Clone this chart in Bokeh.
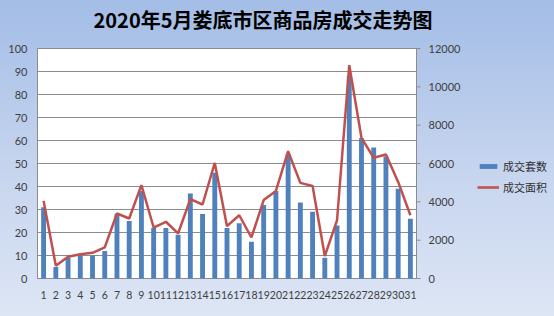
from bokeh.plotting import figure
from bokeh.models import Range1d, Legend, LegendItem, ColumnDataSource
from bokeh.core.properties import value
from bokeh.embed import file_html
from bokeh.resources import INLINE

days = ["1", "2", "3", "4", "5", "6", "7", "8", "9", "10", "11", "12", "13", "14", "15", "16",
        "17", "18", "19", "20", "21", "22", "23", "24", "25", "26", "27", "28", "29", "30", "31"]
day_pos = [1, 2, 3, 4, 5, 6, 7, 8, 9, 10, 11, 12, 13, 14, 15, 16,
           17, 18, 19, 20, 21, 22, 23, 24, 25, 26, 27, 28, 29, 30, 31]
units = [31, 5, 9, 10, 10, 12, 28, 25, 38, 22, 22, 19, 37, 28, 46, 22,
         24, 16, 32, 38, 54, 33, 29, 9, 23, 88, 61, 57, 53, 39, 26]
area = [4050, 660, 1130, 1270, 1340, 1620, 3390, 3130, 4870, 2660, 2960, 2350, 4140, 3860, 6030, 2730,
        3300, 2140, 4090, 4570, 6640, 4990, 4830, 1170, 3040, 11130, 7340, 6300, 6470, 5040, 3300]
left_ticks = [0, 10, 20, 30, 40, 50, 60, 70, 80, 90, 100]
right_ticks = [0, 2000, 4000, 6000, 8000, 10000, 12000]
title_text = "2020年5月娄底市区商品房成交走势图"
series_names = ["成交套数", "成交面积"]

W, H = 554, 316
# plot-area placement (pixels)
PL, PR, PT, PB = 37, 416, 48, 278
n = len(days)
x_lo, x_hi = 0.5, n + 0.5
y_lo, y_hi = 0, 100
a_lo, a_hi = 0, 12000
xs = (PR - PL) / (x_hi - x_lo)
ys = (PB - PT) / (y_hi - y_lo)
a_scale = (a_hi - a_lo) / (y_hi - y_lo)

p = figure(width=W, height=H, output_backend="svg", toolbar_location=None, tools="",
           x_axis_type=None, y_axis_type=None,
           x_range=Range1d(x_lo - PL / xs, x_hi + (W - PR) / xs),
           y_range=Range1d(y_lo - (H - PB) / ys, y_hi + PT / ys),
           min_border_left=0, min_border_right=0, min_border_top=0, min_border_bottom=0)
ymin, ymax = p.y_range.start, p.y_range.end
p.extra_y_ranges = {"area": Range1d(ymin * a_scale, ymax * a_scale)}

p.border_fill_color = None
p.background_fill_color = None
p.outline_line_color = None
p.styles = {"background": "linear-gradient(180deg, #a3bde6 0%, #c4d3ee 50%, #dde6f5 100%)"}

axis_col = "#8c8c8c"
lab_col = "#404040"
lab_font = value("Lato")

# plot area
p.quad(left=[x_lo], right=[x_hi], bottom=[y_lo], top=[y_hi], fill_color="white", line_color="#a6a6a6")
# horizontal grid lines
p.segment(x0=[x_lo] * len(left_ticks), x1=[x_hi] * len(left_ticks), y0=left_ticks, y1=left_ticks,
          line_color=axis_col, line_width=1)
# left axis line
p.segment(x0=[x_lo], x1=[x_lo], y0=[y_lo], y1=[y_hi], line_color=axis_col)

src = ColumnDataSource(dict(day=day_pos, label=days, units=units, area=area))
bars = p.vbar(x="day", top="units", width=0.4, source=src, fill_color="#4f81bd", line_color=None)
line = p.line(x="day", y="area", source=src, y_range_name="area", line_color="#c0504d", line_width=2.5)

# right axis
p.segment(x0=[x_hi], x1=[x_hi], y0=[a_lo], y1=[a_hi], line_color=axis_col, y_range_name="area")
p.ray(x=[x_hi] * len(right_ticks), y=right_ticks, length=4, length_units="screen", angle=0,
      line_color=axis_col, y_range_name="area")
p.text(x=[x_hi] * len(right_ticks), y=right_ticks, text=[str(t) for t in right_ticks],
       x_offset=12, text_align="left", text_baseline="middle", text_font=lab_font,
       text_font_size="11px", text_color=lab_col, y_range_name="area")

# left axis labels
p.text(x=[x_lo] * len(left_ticks), y=left_ticks, text=[str(t) for t in left_ticks],
       x_offset=-10, text_align="right", text_baseline="middle", text_font=lab_font,
       text_font_size="11px", text_color=lab_col)

# x axis labels
p.text(x="day", y=y_lo, text="label", source=src, y_offset=12, text_align="center",
       text_baseline="top", text_font=lab_font, text_font_size="10.5px", text_color=lab_col)

# title
p.text(x=[x_lo + (262.5 - PL) / xs], y=[y_hi + (PT - 19) / ys], text=[title_text],
       text_align="center", text_baseline="middle", text_font=value("Noto Sans CJK SC"),
       text_font_size="20px", text_font_style="bold", text_color="black")

legend = Legend(items=[LegendItem(label=series_names[0], renderers=[bars]),
                       LegendItem(label=series_names[1], renderers=[line])],
                location=(477, H - 196), padding=0, margin=0, spacing=3,
                glyph_width=22, glyph_height=6, label_height=18, label_standoff=4,
                label_text_font="Noto Sans CJK SC", label_text_font_size="11px",
                label_text_color="#303030",
                background_fill_alpha=0, border_line_color=None)
p.add_layout(legend, "center")

open("out.html", "w").write(file_html(p, INLINE))
